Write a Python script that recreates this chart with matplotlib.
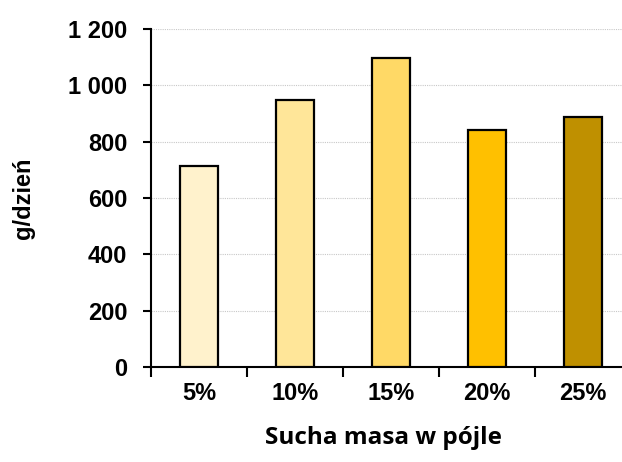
import matplotlib.pyplot as plt
from matplotlib.ticker import FuncFormatter, FixedLocator

categories = ["5%", "10%", "15%", "20%", "25%"]
values = [712, 949, 1097, 840, 888]
colors = ["#FFF2CC", "#FFE699", "#FFD966", "#FFC000", "#BF9000"]

fig = plt.figure(figsize=(6.22, 4.62), dpi=100)
# plot area runs slightly past the right edge, as in the original
ax = fig.add_axes([151 / 622, 1 - 367 / 462, 480 / 622, 338 / 462])

x = range(len(categories))
ax.bar(x, values, width=0.4, color=colors, edgecolor="black", linewidth=1.6, zorder=3)

ax.set_xlim(-0.5, len(categories) - 0.5)
ax.set_ylim(0, 1200)
ax.set_yticks(range(0, 1201, 200))
ax.yaxis.set_major_formatter(FuncFormatter(lambda v, p: f"{int(v):,}".replace(",", " ")))
ax.grid(axis="y", color="#c8c8c8", linestyle=(0, (1, 1)), linewidth=0.8, zorder=0)

ax.set_xticks(list(x))
ax.set_xticklabels(categories)
ax.xaxis.set_minor_locator(FixedLocator([i + 0.5 for i in range(-1, len(categories))]))
ax.tick_params(axis="x", which="major", length=0, pad=11)
ax.tick_params(axis="x", which="minor", length=7, width=1.5, direction="out")
ax.tick_params(axis="y", length=6, width=1.5, direction="out", pad=11)

for lab in ax.get_xticklabels() + ax.get_yticklabels():
    lab.set_fontfamily("Liberation Sans")
    lab.set_fontweight("bold")
    lab.set_fontsize(17)

for s in ["top", "right"]:
    ax.spines[s].set_visible(False)
for s in ["left", "bottom"]:
    ax.spines[s].set_linewidth(1.5)

fig.text(23 / 622, 1 - 198 / 462, "g/dzień", rotation=90, ha="center", va="center",
         fontfamily="Liberation Sans", fontweight="bold", fontsize=17)
fig.text(383 / 622, 1 - 438 / 462, "Sucha masa w pójle", ha="center", va="center",
         fontfamily="Open Sans", fontweight="bold", fontsize=17.5)

fig.savefig("out.png", dpi=100)
